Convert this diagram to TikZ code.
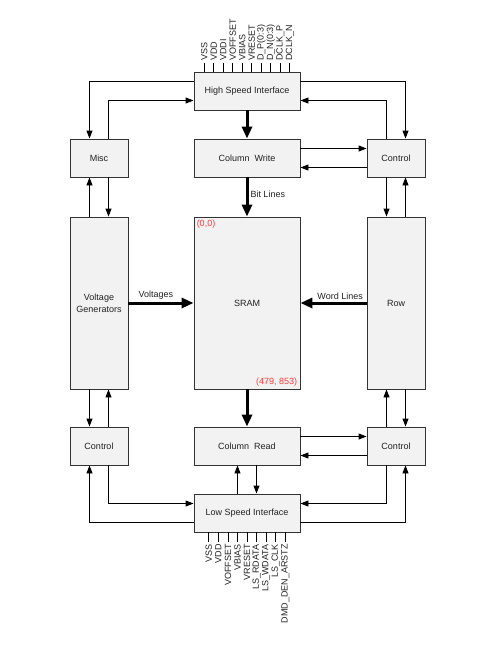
\documentclass[tikz,border=0pt]{standalone}
\usepackage{fontspec}
\setmainfont{Liberation Sans}
\usepackage{tikz}
\usetikzlibrary{arrows.meta,positioning,calc}
\definecolor{boxfill}{HTML}{F2F2F2}
\definecolor{boxline}{HTML}{333333}
\definecolor{coordred}{HTML}{FF3B3B}
\definecolor{ink}{HTML}{222222}
\tikzset{
    blockbox/.style={draw=boxline,fill=boxfill,line width=0.9pt,
      minimum width=106pt,minimum height=38pt,inner sep=1pt,
      text=ink,align=center,font=\fontsize{9}{11.7}\selectfont},
    sidebox/.style={blockbox,minimum width=58pt},
    tallbox/.style={minimum height=172pt},
    sigarrow/.style={-{Triangle[length=8pt,width=6pt]},line width=0.9pt},
    busarrow/.style={-{Triangle[length=12pt,width=10pt]},line width=3pt},
    pintick/.style={line width=0.8pt},
    pinlabel/.style={rotate=90,inner sep=1.5pt,text=ink,
      font=\fontsize{9}{11}\selectfont},
    buslabel/.style={inner sep=2pt,text=ink,font=\fontsize{9}{11}\selectfont},
    cornerlabel/.style={inner sep=3pt,text=coordred,
      font=\fontsize{9}{11}\selectfont}
}

\begin{document}
\begin{tikzpicture}[x=1pt,y=-1pt]
  \useasboundingbox (0,0) rectangle (481,664);
  % blocks
  \node[blockbox] (hsi) at (247,91) {High Speed Interface};
  \node[sidebox] (misc) at (99,158) {Misc};
  \node[blockbox] (colw) at (247,158) {Column~~Write};
  \node[sidebox] (ctrlt) at (396,158) {Control};
  \node[sidebox,tallbox] (volt) at (99,303) {Voltage\\Generators};
  \node[blockbox,tallbox] (sram) at (247,303) {SRAM};
  \node[sidebox,tallbox] (row) at (396,303) {Row};
  \node[sidebox] (ctrlbl) at (99,446) {Control};
  \node[blockbox] (colr) at (247,446) {Column~~Read};
  \node[sidebox] (ctrlbr) at (396,446) {Control};
  \node[blockbox] (lsi) at (247,513) {Low Speed Interface};
  \node[cornerlabel,anchor=north west] (origin) at (sram.north west) {(0,0)};
  \node[cornerlabel,anchor=south east] (extent) at (sram.south east) {(479, 853)};

  % pins
  \foreach \lbl [count=\i from 0] in {VSS,VDD,VDDI,VOFFSET,VBIAS,VRESET,D\_P(0:3),D\_N(0:3),DCLK\_P,DCLK\_N}{
    \draw[pintick] ([xshift=10.7pt+9.5pt*\i]hsi.north west) -- ++(0,-9)
      node[pinlabel,anchor=west] (tpin\i) {\lbl};}
  \foreach \lbl [count=\i from 0] in {VSS,VDD,VOFFSET,VBIAS,VRESET,LS\_RDATA,LS\_WDATA,LS\_CLK,DMD\_DEN\_ARSTZ}{
    \draw[pintick] ([xshift=15.3pt+9.55pt*\i]lsi.south west) -- ++(0,10)
      node[pinlabel,anchor=east] (bpin\i) {\lbl};}

  % buses
  \draw[busarrow] (hsi) -- (colw);
  \draw[busarrow] (colw) -- node[buslabel,right,pos=0.42] (bitlbl) {Bit Lines} (sram);
  \draw[busarrow] (volt) -- node[buslabel,above,pos=0.42] (voltlbl) {Voltages} (sram);
  \draw[busarrow] (row) -- node[buslabel,above,pos=0.4] (wordlbl) {Word Lines} (sram);
  \draw[busarrow] (sram) -- (colr);

  % upper control paths
  \draw[sigarrow] ([yshift=9.5pt]hsi.west) -| ([xshift=-9.5pt]misc.north);
  \draw[sigarrow] ([xshift=9.5pt]misc.north) |- ([yshift=-9.5pt]hsi.west);
  \draw[sigarrow] ([yshift=9.5pt]hsi.east) -| ([xshift=9.5pt]ctrlt.north);
  \draw[sigarrow] ([xshift=-9.5pt]ctrlt.north) |- ([yshift=-9.5pt]hsi.east);
  \draw[sigarrow] ([xshift=-9.5pt]volt.north) -- ([xshift=-9.5pt]misc.south);
  \draw[sigarrow] ([xshift=9.5pt]misc.south) -- ([xshift=9.5pt]volt.north);
  \draw[sigarrow] ([yshift=9.5pt]colw.east) -- ([yshift=9.5pt]ctrlt.west);
  \draw[sigarrow] ([yshift=-9.5pt]ctrlt.west) -- ([yshift=-9.5pt]colw.east);
  \draw[sigarrow] ([xshift=-9.5pt]ctrlt.south) -- ([xshift=-9.5pt]row.north);
  \draw[sigarrow] ([xshift=9.5pt]row.north) -- ([xshift=9.5pt]ctrlt.south);

  % lower control paths
  \draw[sigarrow] ([xshift=-9.5pt]volt.south) -- ([xshift=-9.5pt]ctrlbl.north);
  \draw[sigarrow] ([xshift=9.5pt]ctrlbl.north) -- ([xshift=9.5pt]volt.south);
  \draw[sigarrow] ([xshift=9.5pt]ctrlbl.south) |- ([yshift=9.5pt]lsi.west);
  \draw[sigarrow] ([yshift=-9.5pt]lsi.west) -| ([xshift=-9.5pt]ctrlbl.south);
  \draw[sigarrow] ([yshift=9.5pt]colr.east) -- ([yshift=9.5pt]ctrlbr.west);
  \draw[sigarrow] ([yshift=-9.5pt]ctrlbr.west) -- ([yshift=-9.5pt]colr.east);
  \draw[sigarrow] ([xshift=-9.5pt]ctrlbr.north) -- ([xshift=-9.5pt]row.south);
  \draw[sigarrow] ([xshift=9.5pt]row.south) -- ([xshift=9.5pt]ctrlbr.north);
  \draw[sigarrow] ([xshift=-9.5pt]ctrlbr.south) |- ([yshift=9.5pt]lsi.east);
  \draw[sigarrow] ([yshift=-9.5pt]lsi.east) -| ([xshift=9.5pt]ctrlbr.south);
  \draw[sigarrow] ([xshift=-9.5pt]lsi.north) -- ([xshift=-9.5pt]colr.south);
  \draw[sigarrow] ([xshift=9.5pt]colr.south) -- ([xshift=9.5pt]lsi.north);
\end{tikzpicture}
\end{document}
